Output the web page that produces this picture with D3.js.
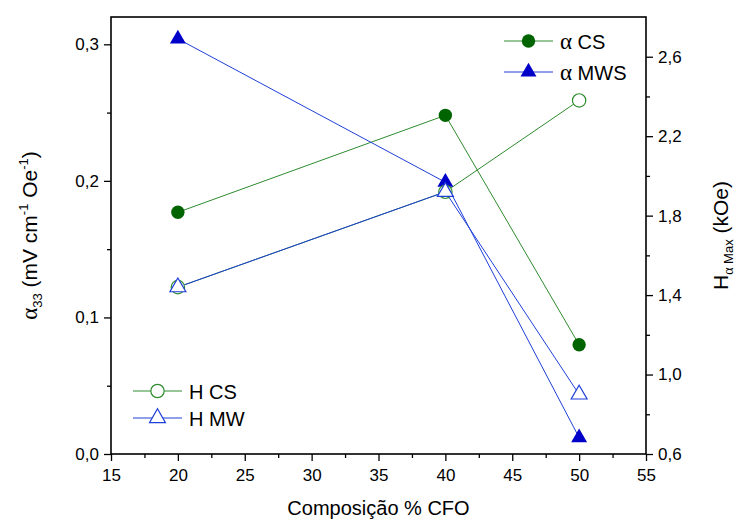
<!DOCTYPE html>
<html>
<head>
<meta charset="utf-8">
<script src="https://cdn.jsdelivr.net/npm/d3@7"></script>
<style>
  body { margin: 0; background: #fff; }
  svg { font-family: "Liberation Sans", Arial, sans-serif; }
  .axis path, .axis line { stroke: #000; stroke-width: 1.3; }
  .axis text { font-size: 17px; fill: #000; }
</style>
</head>
<body>
<svg width="741" height="523"></svg>
<script>
// dados
var composicao = [20, 40, 50];
var alphaCS = [0.177, 0.248, 0.080];
var alphaMWS = [0.304, 0.199, 0.012];
var hCS = [1.44, 1.92, 2.38];
var hMW = [1.44, 1.92, 0.90];

var xTicks = [15, 20, 25, 30, 35, 40, 45, 50, 55];
var yLeftTicks = [0, 0.1, 0.2, 0.3];
var yRightTicks = [0.6, 1.0, 1.4, 1.8, 2.2, 2.6];

var svg = d3.select("svg"),
    margin = {top: 17, right: 95, bottom: 69, left: 111},
    width = +svg.attr("width") - margin.left - margin.right,
    height = +svg.attr("height") - margin.top - margin.bottom;

var x = d3.scaleLinear().domain([15, 55]).range([0, width]),
    y = d3.scaleLinear().domain([0, 0.32]).range([height, 0]),
    y2 = d3.scaleLinear().domain([0.6, 2.8]).range([height, 0]);

var virgula = function(d) { return d3.format(".1f")(d).replace(".", ","); };

var verde = "#006400", verdeLinha = "#2e8b2e", azul = "#0000c8", azulLinha = "#1f3fd8";

var g = svg.append("g")
    .attr("transform", "translate(" + margin.left + "," + margin.top + ")");

//moldura
g.append("rect")
    .attr("width", width).attr("height", height)
    .attr("fill", "none").attr("stroke", "#000").attr("stroke-width", 1.6);

//eixo x
g.append("g").attr("class", "axis")
    .attr("transform", "translate(0," + height + ")")
    .call(d3.axisBottom(x).tickValues(xTicks).tickSize(7).tickPadding(8).tickFormat(d3.format("d")))
    .call(function(s) { s.select(".domain").remove(); });
g.append("g").attr("class", "axis")
    .attr("transform", "translate(0," + height + ")")
    .call(d3.axisBottom(x).tickValues(d3.range(17.5, 55, 5)).tickSize(4).tickFormat(""))
    .call(function(s) { s.select(".domain").remove(); });

//eixo y esquerdo
g.append("g").attr("class", "axis")
    .call(d3.axisLeft(y).tickValues(yLeftTicks).tickSize(7).tickPadding(5).tickFormat(virgula))
    .call(function(s) { s.select(".domain").remove(); });
g.append("g").attr("class", "axis")
    .call(d3.axisLeft(y).tickValues([0.05, 0.15, 0.25]).tickSize(4).tickFormat(""))
    .call(function(s) { s.select(".domain").remove(); });

//eixo y direito
g.append("g").attr("class", "axis")
    .attr("transform", "translate(" + width + ",0)")
    .call(d3.axisRight(y2).tickValues(yRightTicks).tickSize(7).tickPadding(5).tickFormat(virgula))
    .call(function(s) { s.select(".domain").remove(); });
g.append("g").attr("class", "axis")
    .attr("transform", "translate(" + width + ",0)")
    .call(d3.axisRight(y2).tickValues([0.8, 1.2, 1.6, 2.0, 2.4]).tickSize(4).tickFormat(""))
    .call(function(s) { s.select(".domain").remove(); });

//titulos
svg.append("text")
    .attr("x", margin.left + width / 2).attr("y", 515)
    .attr("text-anchor", "middle").attr("font-size", 20)
    .text("Composição % CFO");

var tl = svg.append("text")
    .attr("transform", "translate(37," + (margin.top + height / 2) + ") rotate(-90)")
    .attr("text-anchor", "middle").attr("font-size", 21);
tl.append("tspan").attr("font-family", "Liberation Serif").attr("font-size", 23).text("α");
tl.append("tspan").attr("font-size", 13).attr("dy", 5).text("33");
tl.append("tspan").attr("dy", -5).text(" (mV cm");
tl.append("tspan").attr("font-size", 13).attr("dy", -9).text("-1");
tl.append("tspan").attr("dy", 9).text(" Oe");
tl.append("tspan").attr("font-size", 13).attr("dy", -9).text("-1");
tl.append("tspan").attr("dy", 9).text(")");

var tr = svg.append("text")
    .attr("transform", "translate(728," + (margin.top + height / 2) + ") rotate(-90)")
    .attr("text-anchor", "middle").attr("font-size", 21);
tr.append("tspan").text("H");
tr.append("tspan").attr("font-family", "Liberation Serif").attr("font-size", 14).attr("dy", 5).text("α");
tr.append("tspan").attr("font-size", 13).text(" Max");
tr.append("tspan").attr("dy", -5).text(" (kOe)");

//series
var series = [
  {nome: "α CS", vals: alphaCS, esc: y, cor: verde, linha: verdeLinha, simb: d3.symbolCircle, cheio: true},
  {nome: "α MWS", vals: alphaMWS, esc: y, cor: azul, linha: azulLinha, simb: d3.symbolTriangle, cheio: true},
  {nome: "H CS", vals: hCS, esc: y2, cor: verdeLinha, linha: verdeLinha, simb: d3.symbolCircle, cheio: false},
  {nome: "H MW", vals: hMW, esc: y2, cor: azulLinha, linha: azulLinha, simb: d3.symbolTriangle, cheio: false}
];

function simbolo(s) {
  return d3.symbol().type(s.simb).size(s.simb === d3.symbolCircle ? 140 : 110)();
}

series.forEach(function(s) {
  var line = d3.line()
      .x(function(d, i) { return x(composicao[i]); })
      .y(function(d) { return s.esc(d); });
  g.append("path").datum(s.vals)
      .attr("fill", "none").attr("stroke", s.linha).attr("stroke-width", 1)
      .attr("d", line);
});

series.forEach(function(s) {
  g.selectAll(null).data(s.vals).enter().append("path")
      .attr("transform", function(d, i) { return "translate(" + x(composicao[i]) + "," + s.esc(d) + ")"; })
      .attr("d", simbolo(s))
      .attr("fill", s.cheio ? s.cor : "#fff")
      .attr("stroke", s.cor).attr("stroke-width", s.cheio ? 0 : 1.2);
});

//legendas
function legenda(itens, lx, ly, dy) {
  itens.forEach(function(s, i) {
    var lg = svg.append("g").attr("transform", "translate(" + lx + "," + (ly + i * dy) + ")");
    lg.append("line").attr("x1", 0).attr("x2", 49)
        .attr("stroke", s.linha).attr("stroke-width", 1);
    lg.append("path").attr("transform", "translate(24.5,0)")
        .attr("d", simbolo(s))
        .attr("fill", s.cheio ? s.cor : "#fff")
        .attr("stroke", s.cor).attr("stroke-width", s.cheio ? 0 : 1.2);
    var t = lg.append("text").attr("x", 56).attr("y", 7.5).attr("font-size", 20);
    var partes = s.nome.split(" ");
    if (partes[0] === "α") {
      t.append("tspan").attr("font-family", "Liberation Serif").attr("font-size", 23).text("α");
      t.append("tspan").text(" " + partes[1]);
    } else {
      t.text(s.nome);
    }
  });
}
legenda(series.slice(0, 2), 504, 41, 31);
legenda(series.slice(2), 133, 391, 27);
</script>
</body>
</html>
